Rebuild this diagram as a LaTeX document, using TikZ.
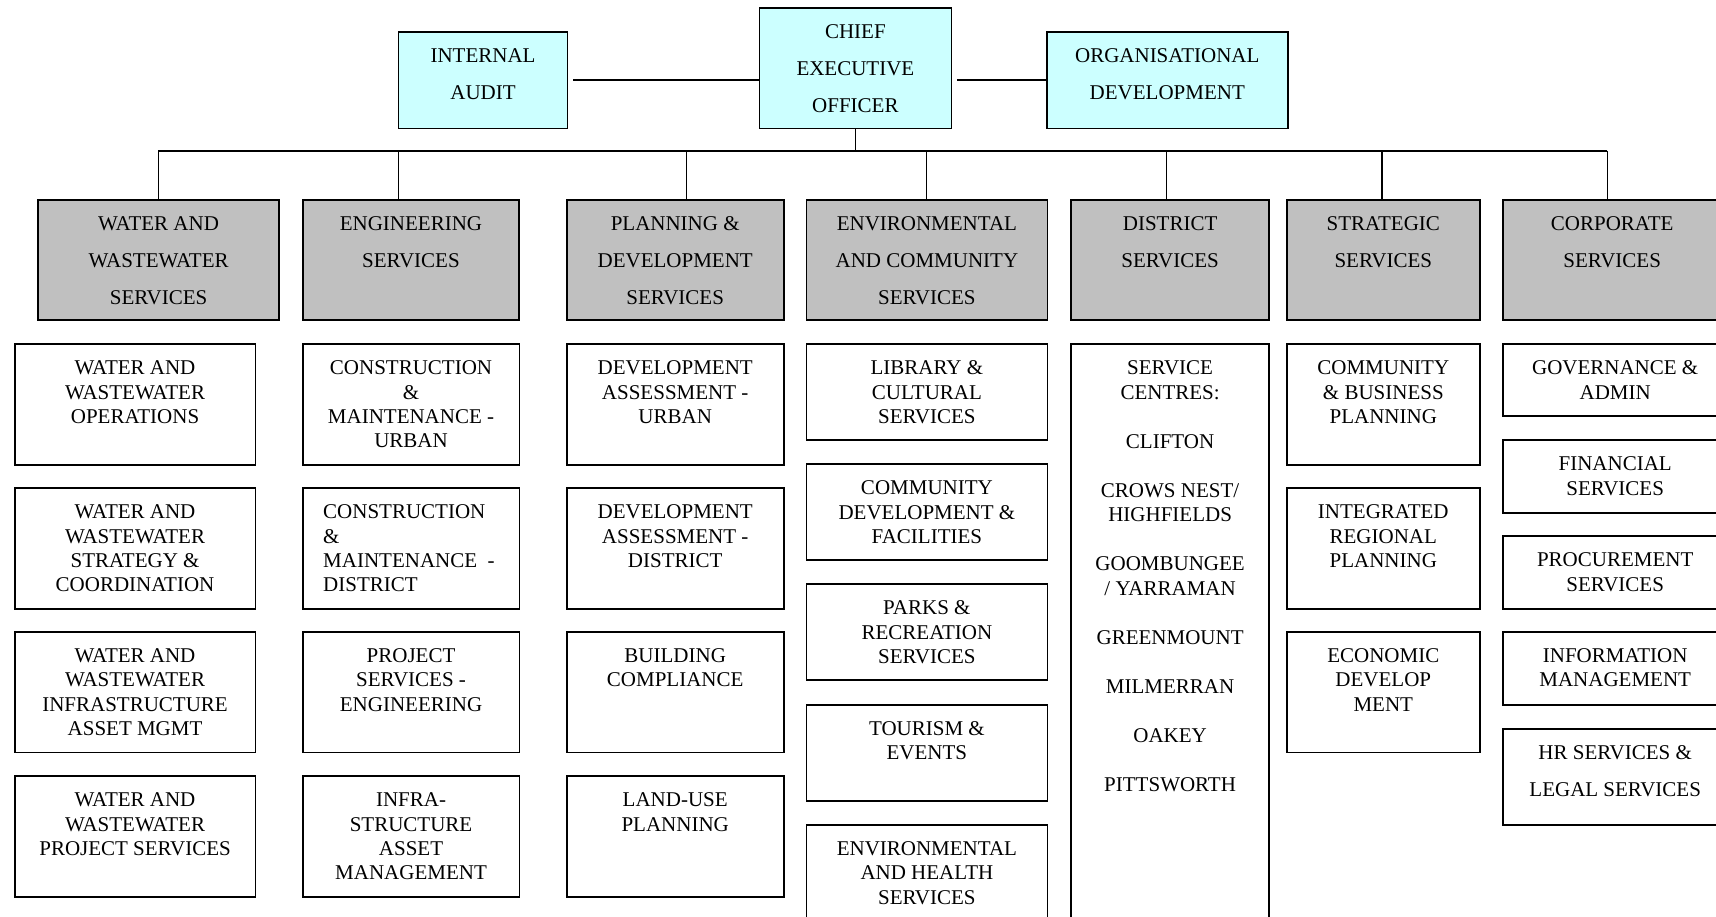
\documentclass[tikz,border=0pt]{standalone}
\usepackage{fontspec}
\setmainfont{Liberation Serif}
\definecolor{cyanbox}{HTML}{CCFFFF}
\definecolor{graybox}{HTML}{C0C0C0}
\newcommand\tl{\rule{0pt}{30.7pt}}
\newcommand\subf{\fontsize{21}{24.3}\selectfont\centering}
\newcommand\subl{\fontsize{21}{24.3}\selectfont\raggedright\leftskip=20.6pt\relax}
\newcommand\distf{\fontsize{21}{24.5}\selectfont\centering}
\newcommand\headf{\fontsize{21}{37}\selectfont\centering}
\newcommand\bx[8]{\node[#6,anchor=north west] (#1) at (#2,#3) {\parbox[c][#5pt][t]{#4pt}{#7\tl #8}};}
\tikzset{
  topbox/.style={draw=black,line width=1.8pt,fill=cyanbox,inner sep=0pt},
  headbox/.style={draw=black,line width=1.8pt,fill=graybox,inner sep=0pt},
  subbox/.style={draw=black,line width=1.8pt,fill=white,inner sep=0pt},
  conn/.style={draw=black,line width=1.5pt}
}
\begin{document}
\begin{tikzpicture}[x=1pt,y=-1pt]
\useasboundingbox (0,0) rectangle (1716,917);
\fill[white] (0,0) rectangle (1716,917);
% top row
\bx{ia}{397.6}{31}{169}{96.7}{topbox}{\headf}{INTERNAL\\AUDIT}
\bx{ceo}{758.5}{7.3}{192}{120.4}{topbox}{\headf}{CHIEF\\EXECUTIVE\\OFFICER}
\bx{od}{1046}{31}{240.7}{96.7}{topbox}{\headf}{ORGANISATIONAL\\DEVELOPMENT}
% heads
\bx{hw}{37.2}{199.3}{241}{120}{headbox}{\headf}{WATER AND\\WASTEWATER\\SERVICES}
\bx{he}{301.7}{199.3}{216.7}{120}{headbox}{\headf}{ENGINEERING\\SERVICES}
\bx{hp}{565.8}{199.3}{217}{120}{headbox}{\headf}{PLANNING \&\\DEVELOPMENT\\SERVICES}
\bx{hn}{805.5}{199.3}{241}{120}{headbox}{\headf}{ENVIRONMENTAL\\AND COMMUNITY\\SERVICES}
\bx{hd}{1070}{199.3}{198.4}{120}{headbox}{\headf}{DISTRICT\\SERVICES}
\bx{hs}{1286}{199.3}{192.8}{120}{headbox}{\headf}{STRATEGIC\\SERVICES}
\bx{hc}{1502.3}{199.3}{218}{120}{headbox}{\headf}{CORPORATE\\SERVICES}
% column 1
\bx{w1}{13.8}{343.3}{240.7}{120.5}{subbox}{\subf}{WATER AND\\WASTEWATER\\OPERATIONS}
\bx{w2}{13.8}{487.3}{240.7}{120.5}{subbox}{\subf}{WATER AND\\WASTEWATER\\STRATEGY \&\\COORDINATION}
\bx{w3}{13.8}{631}{240.7}{120.5}{subbox}{\subf}{WATER AND\\WASTEWATER\\INFRASTRUCTURE\\ASSET MGMT}
\bx{w4}{13.8}{775.3}{240.7}{120.5}{subbox}{\subf}{WATER AND\\WASTEWATER\\PROJECT SERVICES}
% column 2
\bx{e1}{301.7}{343.3}{216.9}{120.5}{subbox}{\subf}{CONSTRUCTION\\\&\\MAINTENANCE -\\URBAN}
\bx{e2}{301.7}{487.3}{216.9}{120.5}{subbox}{\subl}{CONSTRUCTION\\\&\\MAINTENANCE\ \ -\\DISTRICT}
\bx{e3}{301.7}{631}{216.9}{120.5}{subbox}{\subf}{PROJECT\\SERVICES -\\ENGINEERING}
\bx{e4}{301.7}{775.3}{216.9}{120.5}{subbox}{\subf}{INFRA-\\STRUCTURE\\ASSET\\MANAGEMENT}
% column 3
\bx{p1}{565.8}{343.3}{217}{120.5}{subbox}{\subf}{DEVELOPMENT\\ASSESSMENT -\\URBAN}
\bx{p2}{565.8}{487.3}{217}{120.5}{subbox}{\subf}{DEVELOPMENT\\ASSESSMENT -\\DISTRICT}
\bx{p3}{565.8}{631}{217}{120.5}{subbox}{\subf}{BUILDING\\COMPLIANCE}
\bx{p4}{565.8}{775.3}{217}{120.5}{subbox}{\subf}{LAND-USE\\PLANNING}
% column 4
\bx{n1}{805.5}{343.3}{241}{96}{subbox}{\subf}{LIBRARY \&\\CULTURAL\\SERVICES}
\bx{n2}{805.5}{463.3}{241}{96}{subbox}{\subf}{COMMUNITY\\DEVELOPMENT \&\\FACILITIES}
\bx{n3}{805.5}{583.3}{241}{96}{subbox}{\subf}{PARKS \&\\RECREATION\\SERVICES}
\bx{n4}{805.5}{703.7}{241}{96}{subbox}{\subf}{TOURISM \&\\EVENTS}
\bx{n5}{805.5}{824}{241}{96}{subbox}{\subf}{ENVIRONMENTAL\\AND HEALTH\\SERVICES}
% column 5
\bx{d1}{1070}{343.3}{198.4}{600}{subbox}{\distf}{SERVICE\\CENTRES:\\[24.5pt]CLIFTON\\[24.5pt]CROWS NEST/\\HIGHFIELDS\\[24.5pt]GOOMBUNGEE\\/ YARRAMAN\\[24.5pt]GREENMOUNT\\[24.5pt]MILMERRAN\\[24.5pt]OAKEY\\[24.5pt]PITTSWORTH}
% column 6
\bx{s1}{1286}{343.3}{192.8}{120.5}{subbox}{\subf}{COMMUNITY\\\& BUSINESS\\PLANNING}
\bx{s2}{1286}{487.3}{192.8}{120.5}{subbox}{\subf}{INTEGRATED\\REGIONAL\\PLANNING}
\bx{s3}{1286}{631}{192.8}{120.5}{subbox}{\subf}{ECONOMIC\\DEVELOP\\MENT}
% column 7
\bx{c1}{1502.3}{343.3}{224}{72}{subbox}{\subf}{GOVERNANCE \&\\ADMIN}
\bx{c2}{1502.3}{439.3}{224}{72.4}{subbox}{\subf}{FINANCIAL\\SERVICES}
\bx{c3}{1502.3}{535.3}{224}{72.4}{subbox}{\subf}{PROCUREMENT\\SERVICES}
\bx{c4}{1502.3}{631}{224}{72.7}{subbox}{\subf}{INFORMATION\\MANAGEMENT}
\bx{c5}{1502.3}{727.7}{224}{96.3}{subbox}{\headf}{HR SERVICES \&\\LEGAL SERVICES}
% connectors
\coordinate (jw) at (158.4,151);
\coordinate (je) at (398.4,151);
\coordinate (jp) at (686.4,151);
\coordinate (jn) at (926.4,151);
\coordinate (jd) at (1166.3,151);
\coordinate (js) at (1382.2,151);
\coordinate (jc) at (1607.3,151);
\draw[conn] (jw) -- (jc);
\draw[conn] (ceo.south) -- (ceo.south |- jw);
\draw[conn] (jw) -- (jw |- hw.north);
\draw[conn] (je) -- (je |- he.north);
\draw[conn] (jp) -- (jp |- hp.north);
\draw[conn] (jn) -- (jn |- hn.north);
\draw[conn] (jd) -- (jd |- hd.north);
\draw[conn] (js) -- (js |- hs.north);
\draw[conn] (jc) -- (jc |- hc.north);
\draw[conn,shorten <=5pt] (ia.east) -- (ceo.west |- ia.east);
\draw[conn,shorten <=5pt] (ceo.east |- od.west) -- (od.west);
\end{tikzpicture}
\end{document}
